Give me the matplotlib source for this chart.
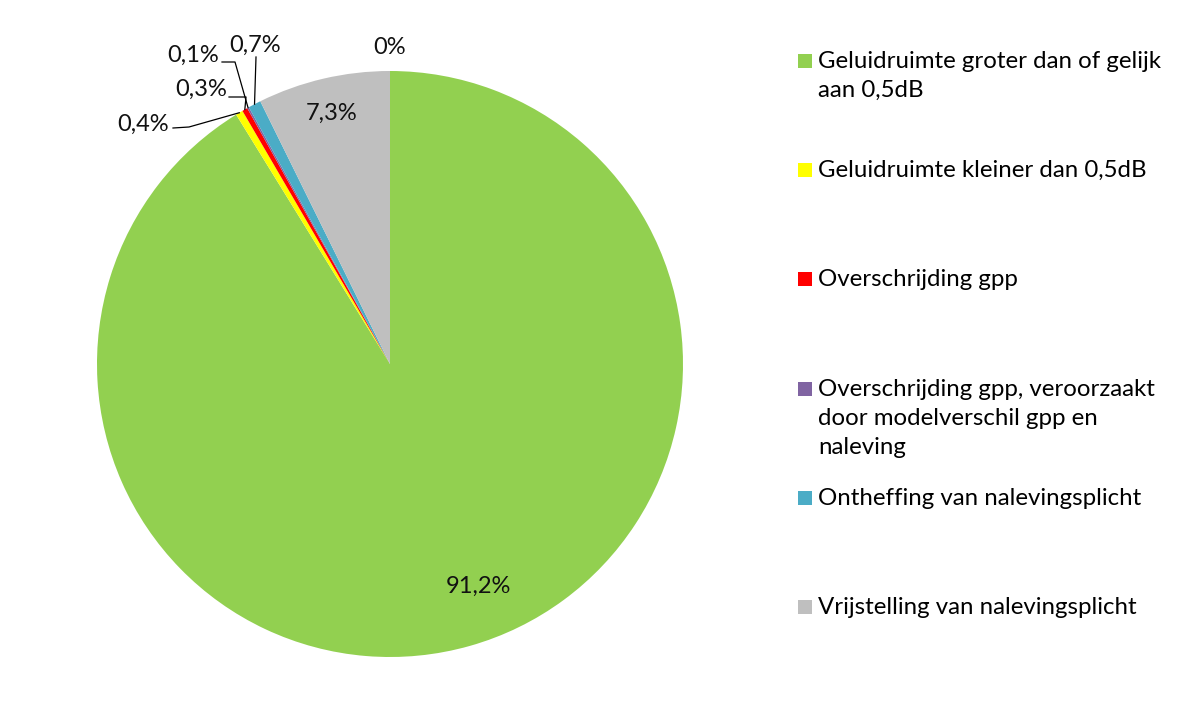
import numpy as np
import matplotlib.pyplot as plt
from matplotlib.patches import Rectangle

# data
categories = ['Geluidruimte groter dan of gelijk\naan 0,5dB',
              'Geluidruimte kleiner dan 0,5dB',
              'Overschrijding gpp',
              'Overschrijding gpp, veroorzaakt\ndoor modelverschil gpp en\nnaleving',
              'Ontheffing van nalevingsplicht',
              'Vrijstelling van nalevingsplicht']
values = [91.2, 0.4, 0.3, 0.1, 0.7, 7.3]
pct_labels = ['91,2%', '0,4%', '0,3%', '0,1%', '0,7%', '7,3%']
zero_label = '0%'   # label shown at the top (empty category)
colors = ['#92D050', '#FFFF00', '#FF0000', '#8064A2', '#4BACC6', '#BFBFBF']

W, H = 1183, 725
cx, cy, R = 390, 364, 293   # pie centre / radius in pixels

def P(x, y):
    # pixel (from top-left) -> data coords (pie radius = 1)
    return (x - cx) / R, (cy - y) / R

plt.rcParams['font.family'] = ['Lato', 'DejaVu Sans']
fs = 17
lfs = 17.3

fig = plt.figure(figsize=(W / 100, H / 100), dpi=100)
ax = fig.add_axes([0, 0, 1, 1])
wedges, _ = ax.pie(values, colors=colors, startangle=90, counterclock=False,
                   radius=1, wedgeprops=dict(linewidth=0))
ax.set_xlim(-cx / R, (W - cx) / R)
ax.set_ylim(-(H - cy) / R, cy / R)
ax.set_aspect('equal')
ax.axis('off')

def mid(w):
    return np.deg2rad((w.theta1 + w.theta2) / 2)

# labels inside big slices
a = mid(wedges[0]) + np.deg2rad(5.8)
ax.text(0.815 * np.cos(a), 0.815 * np.sin(a), pct_labels[0], fontsize=fs,
        ha='center', va='center', color='#111111')
a = mid(wedges[5])
ax.text(0.88 * np.cos(a), 0.88 * np.sin(a), pct_labels[5], fontsize=fs,
        ha='center', va='center', color='#111111')
# the 0% label sits at the end of the last wedge (top)
a = np.deg2rad(wedges[5].theta1)
ax.text(1.08 * np.cos(a), 1.08 * np.sin(a), zero_label, fontsize=fs,
        ha='center', va='center', color='#111111')

# small slices with leader lines: text centre, line start, elbow (pixels)
small = {1: ((143, 124), (173, 128), (189, 127)),
         2: ((201, 89), (229, 97), (246, 97)),
         3: ((193, 55), (222, 62), (235, 62)),
         4: ((255, 45), (256, 57), (256, 57))}
for i, (tc, s, e) in small.items():
    a = mid(wedges[i])
    edge = (np.cos(a), np.sin(a))
    p1, p2 = P(*s), P(*e)
    ax.plot([p1[0], p2[0], edge[0]], [p1[1], p2[1], edge[1]],
            color='black', lw=0.9)
    ax.text(*P(*tc), pct_labels[i], fontsize=fs, ha='center', va='center',
            color='#111111')

# legend drawn by hand
for i, (lab, col) in enumerate(zip(categories, colors)):
    base = 68 + i * 109.2
    bx, by = P(798, base)
    ax.add_patch(Rectangle((bx, by), 14 / R, 14 / R, color=col, lw=0))
    for k, line in enumerate(lab.split('\n')):
        ax.text(*P(818, base + k * 29), line, fontsize=lfs, ha='left',
                va='baseline', color='black')

fig.savefig('out.png', dpi=100)
